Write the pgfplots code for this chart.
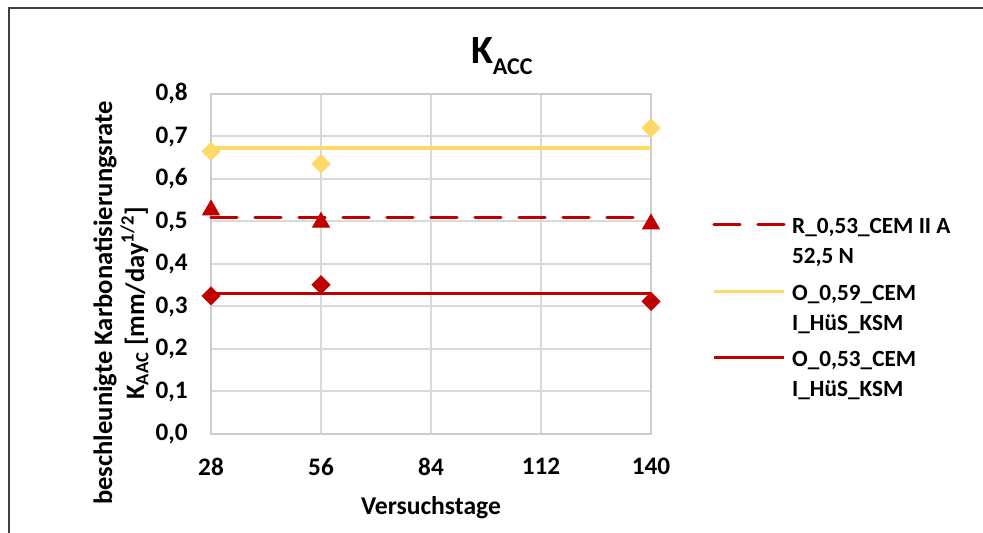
\documentclass[border=0pt]{standalone}
\usepackage{pgfplots}
\pgfplotsset{compat=1.18}
\usepackage{fontspec}
\setmainfont{Carlito}
\definecolor{kred}{HTML}{C00000}
\definecolor{kyel}{HTML}{FFD966}
\begin{document}
\begin{tikzpicture}
\path[use as bounding box] (0pt,0pt) rectangle (491.5pt,266.5pt);
\draw[line width=1pt, black!75] (4.5pt,-10pt) -- (4.5pt,262.5pt) -- (500pt,262.5pt);
\begin{axis}[
  at={(105.5pt,49.5pt)}, anchor=south west,
  scale only axis, width=220pt, height=170pt,
  xmin=28, xmax=140, ymin=0, ymax=0.8,
  xtick={28,56,84,112,140},
  ytick={0,0.1,0.2,0.3,0.4,0.5,0.6,0.7,0.8},
  major tick length=0pt,
  grid=major,
  major grid style={gray!30, line width=1pt},
  axis line style={gray!40, line width=1pt},
  /pgf/number format/assume math mode=true,
  ticklabel style={font=\fontsize{12.6}{14}\selectfont\bfseries},
  yticklabel style={anchor=east, inner sep=0pt, xshift=-11.5pt,
    /pgf/number format/.cd, fixed, fixed zerofill, precision=1, use comma},
  xticklabel style={anchor=north, inner sep=0pt, yshift=-12pt},
  xlabel={Versuchstage},
  every axis x label/.style={at={(axis description cs:0.5,0)}, anchor=center, yshift=-37pt,
    font=\fontsize{12.8}{14}\selectfont\bfseries},
  ylabel={beschleunigte Karbonatisierungsrate\\K\textsubscript{AAC} [mm/day\textsuperscript{1/2}]},
  every axis y label/.style={at={(axis description cs:-0.2045,0.385)}, anchor=center, rotate=90,
    align=center, font=\fontsize{13.3}{16}\selectfont\bfseries},
  title={{\fontsize{20}{22}\selectfont K}\raisebox{-5.5pt}{\fontsize{12}{14}\selectfont ACC}},
  every axis title/.style={at={(axis description cs:0.661,1.091)}, anchor=base, font=\bfseries},
  legend style={at={(1.1386,0.664)}, anchor=north west, draw=none, fill=none, inner sep=0pt,
    row sep=2.3pt, font=\fontsize{11.6}{15}\selectfont\bfseries,
    cells={align=left, inner sep=0pt},
    /tikz/every odd column/.append style={column sep=1.3pt}},
  legend cell align=left,
  legend image code/.code={\draw[#1] (0pt,7.5pt) -- (35pt,7.5pt);},
  clip=false,
]
\addplot[kred, line width=1.6pt, dash pattern=on 13pt off 9pt, line cap=round] coordinates {(28,0.510) (140,0.510)};
\addlegendentry{R\_0,53\_CEM II A\strut\\52,5 N\strut}
\addplot[kyel, line width=1.6pt] coordinates {(28,0.673) (140,0.673)};
\addlegendentry{O\_0,59\_CEM\strut\\I\_HüS\_KSM\strut}
\addplot[kred, line width=1.6pt] coordinates {(28,0.330) (140,0.330)};
\addlegendentry{O\_0,53\_CEM\strut\\I\_HüS\_KSM\strut}
\addplot[only marks, mark=square*, mark size=3.2pt, mark options={rotate=45, fill=kyel, draw=kyel}, forget plot] coordinates {(28,0.665) (56,0.636) (140,0.720)};
\addplot[only marks, mark=triangle*, mark size=4.9pt, mark options={fill=kred, draw=kred}, forget plot] coordinates {(28,0.527) (56,0.498) (140,0.494)};
\addplot[only marks, mark=square*, mark size=3.2pt, mark options={rotate=45, fill=kred, draw=kred}, forget plot] coordinates {(28,0.325) (56,0.351) (140,0.312)};
\end{axis}
\end{tikzpicture}
\end{document}
